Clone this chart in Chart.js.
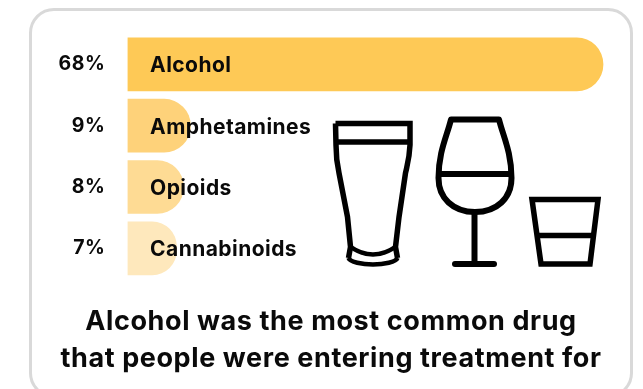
<!DOCTYPE html>
<html>
<head>
<meta charset="utf-8">
<title>Drugs people were entering treatment for</title>
<script src="https://cdn.jsdelivr.net/npm/chart.js@4"></script>
<style>
  html, body { margin: 0; background: #fff; overflow: hidden; }
  #wrap { position: relative; width: 643px; height: 389px; }
  #card {
    position: absolute; left: 29px; top: 8px; width: 598px; height: 384px;
    border: 3px solid #d9d9d9; border-radius: 25px; background: #fff;
  }
  #my-chart { position: absolute; left: 0; top: 0; }
  #glasses { position: absolute; left: 0; top: 0; pointer-events: none; }
  #glasses path { fill: none; stroke: #000; stroke-width: 5.5; }
  #glasses path.thin { stroke-width: 4.5; }
  #glasses path.wine { stroke-width: 6; }
</style>
</head>
<body>
<div id="wrap">
  <div id="card"></div>
  <canvas id="my-chart" width="643" height="389"></canvas>
  <svg id="glasses" width="643" height="389">
    <!-- pint -->
    <path d="M335.5 123.5 H410 L410 145 C409.5 158 407.5 164 405.5 173 L399 217 L395.5 247 L397.5 258"/>
    <path d="M335.5 123.5 L336 145 C336 158 337 164 339 173 L347.5 217 L350.5 247 L348.5 258"/>
    <path d="M336 142 H410"/>
    <path class="thin" d="M348.5 258 C350 262 362 264.5 373 264.5 C384 264.5 396 262 397.5 258"/>
    <path class="thin" d="M350 246.5 C365 257 381 257 396 246.5"/>
    <!-- wine -->
    <path class="wine" stroke-linejoin="round" d="M451 119.5 H499 C503 136 511.5 152 511.5 178 C511.5 198 497 212 475 212 C453 212 438.5 198 438.5 178 C438.5 152 447 136 451 119.5 Z"/>
    <path class="wine" d="M438.5 174 H511.5"/>
    <path class="wine" d="M474.5 212 V264"/>
    <path class="wine" stroke-linecap="round" d="M455 264 H494"/>
    <!-- tumbler -->
    <path d="M532 199.5 H598 L590 264 H541 Z"/>
    <path d="M537 235.5 H594"/>
  </svg>
</div>
<script>
var categories = ['Alcohol', 'Amphetamines', 'Opioids', 'Cannabinoids'];
var shares = [68, 9, 8, 7];
var barColors = ['#fec956', '#fed27a', '#fedb94', '#fee8bc'];
var titleLines = ['Alcohol was the most common drug', 'that people were entering treatment for'];
var fontName = 'Inter, sans-serif';

// Drug names sit inside the bars, starting a little after the zero line
var barNames = {
  id: 'barNames',
  beforeDraw: function (chart) {
    chart.ctx.letterSpacing = '0.6px';
  },
  afterDatasetsDraw: function (chart) {
    var ctx = chart.ctx;
    var x0 = chart.scales.x.getPixelForValue(0);
    ctx.save();
    ctx.font = '700 21px ' + fontName;
    ctx.letterSpacing = '0.45px';
    ctx.fillStyle = '#0a0a0a';
    ctx.textBaseline = 'middle';
    categories.forEach(function (name, i) {
      ctx.fillText(name, x0 + 22.5, chart.scales.y.getPixelForValue(i) + 1.5);
    });
    ctx.restore();
  }
};

var chart = new Chart(document.getElementById('my-chart').getContext('2d'), {
  type: 'bar',
  data: {
    labels: categories,
    datasets: [{
      data: shares,
      backgroundColor: barColors,
      barThickness: 53,
      borderSkipped: 'left',
      borderRadius: { topLeft: 0, bottomLeft: 0, topRight: 27, bottomRight: 27 }
    }]
  },
  plugins: [barNames],
  options: {
    indexAxis: 'y',
    responsive: false,
    animation: false,
    layout: { padding: { left: 31, right: 12, top: 33, bottom: 0 } },
    scales: {
      x: { display: false, min: 0, max: 72 },
      y: {
        afterFit: function (scale) { scale.width = 96.5; },
        grid: { display: false, drawTicks: false },
        border: { display: false },
        ticks: {
          padding: 22,
          color: '#0a0a0a',
          font: { family: fontName, size: 19.5, weight: '700' },
          callback: function (value, i) { return shares[i] + '%'; }
        }
      }
    },
    plugins: {
      legend: { display: false },
      tooltip: { enabled: false },
      title: {
        display: true,
        position: 'bottom',
        text: titleLines,
        color: '#0a0a0a',
        font: { family: fontName, size: 27, weight: '700', lineHeight: 1.37 },
        padding: { top: 24.5, bottom: 11.5 }
      }
    }
  }
});
</script>
</body>
</html>
